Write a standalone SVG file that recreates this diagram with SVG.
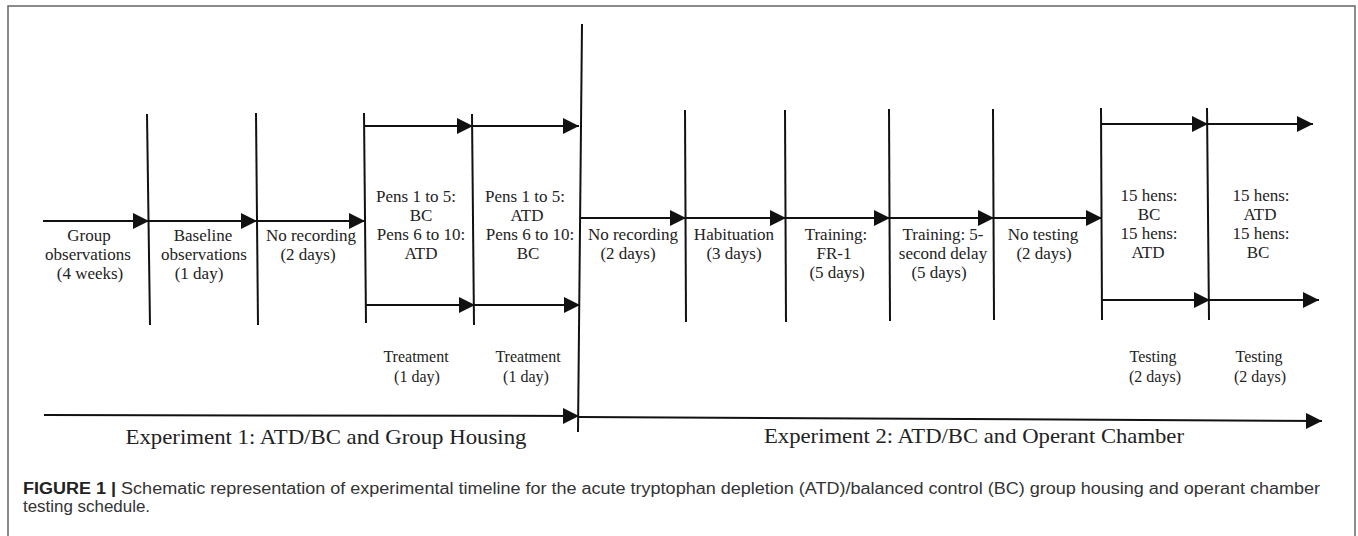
<svg xmlns="http://www.w3.org/2000/svg" width="1358" height="536" viewBox="0 0 1358 536">
<defs>
<style>
.ln{stroke:#111;stroke-width:2;fill:none}
.ar{stroke:#111;stroke-width:2;fill:none;marker-end:url(#ah)}
.t{font-family:"Liberation Serif","Times New Roman",serif;font-size:17px;fill:#222;text-anchor:middle}
.ts{font-family:"Liberation Serif","Times New Roman",serif;font-size:16px;fill:#222;text-anchor:middle}
.ex{font-family:"Liberation Serif","Times New Roman",serif;font-size:21px;fill:#222;text-anchor:middle}
.cap{font-family:"Liberation Sans",Arial,sans-serif;font-size:16px;fill:#333}
</style>
<marker id="ah" markerWidth="16" markerHeight="16" refX="16" refY="8" orient="auto" markerUnits="userSpaceOnUse">
<path d="M0,0 L16,8 L0,16 z" fill="#111"/>
</marker>
</defs>
<rect width="1358" height="536" fill="#fff"/>
<rect x="8" y="6" width="1347" height="540" fill="none" stroke="#666" stroke-width="1.5"/>

<g id="connectors">
<!-- Experiment 1 verticals -->
<line class="ln" x1="147" y1="114" x2="150" y2="325"/>
<line class="ln" x1="256" y1="113" x2="258" y2="325"/>
<line class="ln" x1="364" y1="113" x2="366" y2="323"/>
<line class="ln" x1="472" y1="114" x2="474" y2="325"/>
<line class="ln" x1="582" y1="24" x2="578" y2="432"/>
<!-- Experiment 2 verticals -->
<line class="ln" x1="685" y1="110" x2="686" y2="322"/>
<line class="ln" x1="785" y1="110" x2="786" y2="322"/>
<line class="ln" x1="889" y1="109" x2="890" y2="321"/>
<line class="ln" x1="993" y1="109" x2="994" y2="320"/>
<line class="ln" x1="1101" y1="108" x2="1102" y2="320"/>
<line class="ln" x1="1207" y1="108" x2="1209" y2="320"/>
<!-- Experiment 1 main row -->
<line class="ar" x1="43" y1="221" x2="149" y2="221"/>
<line class="ar" x1="149" y1="221" x2="257" y2="221"/>
<line class="ar" x1="257" y1="221" x2="365" y2="221"/>
<!-- treatment top/bottom -->
<line class="ar" x1="365" y1="126" x2="473" y2="126"/>
<line class="ar" x1="473" y1="126" x2="579" y2="126"/>
<line class="ar" x1="366" y1="305" x2="475" y2="305"/>
<line class="ar" x1="475" y1="305" x2="580" y2="305"/>
<!-- Experiment 2 main row -->
<line class="ar" x1="580" y1="218" x2="686" y2="218"/>
<line class="ar" x1="686" y1="218" x2="786" y2="218"/>
<line class="ar" x1="786" y1="218" x2="890" y2="218"/>
<line class="ar" x1="890" y1="218" x2="994" y2="218"/>
<line class="ar" x1="994" y1="218" x2="1102" y2="218"/>
<!-- testing top/bottom -->
<line class="ar" x1="1101" y1="124" x2="1208" y2="124"/>
<line class="ar" x1="1208" y1="124" x2="1313" y2="124"/>
<line class="ar" x1="1102" y1="300" x2="1210" y2="300"/>
<line class="ar" x1="1210" y1="300" x2="1319" y2="300"/>
<!-- bottom timelines -->
<line class="ar" x1="44" y1="415" x2="579" y2="416"/>
<line class="ar" x1="579" y1="417" x2="1322" y2="421"/>
</g>

<g id="group-observations">
<text class="t" x="89" y="241">Group</text>
<text class="t" x="88" y="260">observations</text>
<text class="t" x="90" y="279">(4 weeks)</text>
</g>
<g id="baseline-observations">
<text class="t" x="203" y="241">Baseline</text>
<text class="t" x="204" y="260">observations</text>
<text class="t" x="199" y="279">(1 day)</text>
</g>
<g id="no-recording-1">
<text class="t" x="311" y="241">No recording</text>
<text class="t" x="308" y="260">(2 days)</text>
</g>
<g id="treatment-1">
<text class="t" x="416" y="202">Pens 1 to 5:</text>
<text class="t" x="421" y="221">BC</text>
<text class="t" x="421" y="240">Pens 6 to 10:</text>
<text class="t" x="421" y="259">ATD</text>
<text class="ts" x="416" y="362">Treatment</text>
<text class="ts" x="417" y="382">(1 day)</text>
</g>
<g id="treatment-2">
<text class="t" x="525" y="202">Pens 1 to 5:</text>
<text class="t" x="527" y="221">ATD</text>
<text class="t" x="530" y="240">Pens 6 to 10:</text>
<text class="t" x="528" y="259">BC</text>
<text class="ts" x="528" y="362">Treatment</text>
<text class="ts" x="526" y="382">(1 day)</text>
</g>
<g id="no-recording-2">
<text class="t" x="633" y="240">No recording</text>
<text class="t" x="628" y="259">(2 days)</text>
</g>
<g id="habituation">
<text class="t" x="734" y="240">Habituation</text>
<text class="t" x="734" y="259">(3 days)</text>
</g>
<g id="training-fr1">
<text class="t" x="836" y="240">Training:</text>
<text class="t" x="834" y="259">FR-1</text>
<text class="t" x="837" y="278">(5 days)</text>
</g>
<g id="training-delay">
<text class="t" x="943" y="240">Training: 5-</text>
<text class="t" x="943" y="259">second delay</text>
<text class="t" x="939" y="278">(5 days)</text>
</g>
<g id="no-testing">
<text class="t" x="1043" y="240">No testing</text>
<text class="t" x="1044" y="259">(2 days)</text>
</g>
<g id="testing-1">
<text class="t" x="1149" y="201">15 hens:</text>
<text class="t" x="1149" y="220">BC</text>
<text class="t" x="1149" y="239">15 hens:</text>
<text class="t" x="1148" y="258">ATD</text>
<text class="ts" x="1153" y="362">Testing</text>
<text class="ts" x="1155" y="382">(2 days)</text>
</g>
<g id="testing-2">
<text class="t" x="1261" y="201">15 hens:</text>
<text class="t" x="1260" y="220">ATD</text>
<text class="t" x="1261" y="239">15 hens:</text>
<text class="t" x="1258" y="258">BC</text>
<text class="ts" x="1259" y="362">Testing</text>
<text class="ts" x="1260" y="382">(2 days)</text>
</g>
<g id="experiment-1">
<text class="ex" x="326" y="444" textLength="401" lengthAdjust="spacingAndGlyphs">Experiment 1: ATD/BC and Group Housing</text>
</g>
<g id="experiment-2">
<text class="ex" x="974" y="443" textLength="420" lengthAdjust="spacingAndGlyphs">Experiment 2: ATD/BC and Operant Chamber</text>
</g>
<g id="caption">
<text class="cap" x="23" y="494" textLength="1297" lengthAdjust="spacingAndGlyphs"><tspan font-weight="bold" fill="#222">FIGURE 1 |</tspan> Schematic representation of experimental timeline for the acute tryptophan depletion (ATD)/balanced control (BC) group housing and operant chamber</text>
<text class="cap" x="23" y="512" textLength="127" lengthAdjust="spacingAndGlyphs">testing schedule.</text>
</g>
</svg>
